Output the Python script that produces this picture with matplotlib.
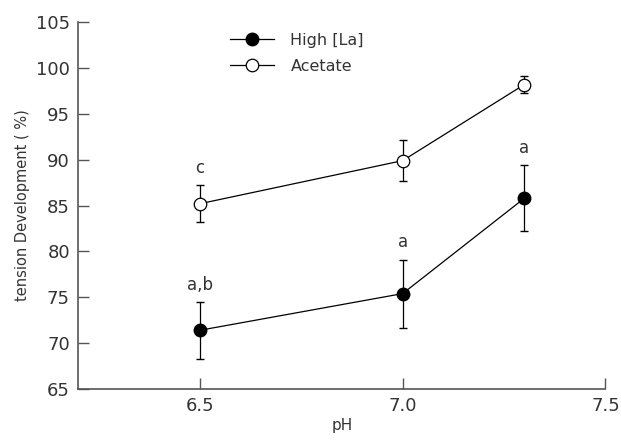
import matplotlib.pyplot as plt

ph = [6.5, 7.0, 7.3]
high_la = [71.4, 75.4, 85.8]
high_la_err = [3.1, 3.7, 3.6]
acetate = [85.2, 89.9, 98.2]
acetate_err = [2.0, 2.2, 0.9]
high_la_labels = ["a,b", "a", "a"]
acetate_labels = ["c", "", ""]

ink = "#333333"
axc = "#555555"

fig, ax = plt.subplots(figsize=(6.21, 4.43), dpi=100)
fig.subplots_adjust(left=0.126, right=0.975, top=0.95, bottom=0.122)

# error bars drawn separately so the legend shows plain line+marker
ax.errorbar(ph, high_la, yerr=high_la_err, fmt="none", ecolor="black",
            elinewidth=0.9, capsize=3)
ax.errorbar(ph, acetate, yerr=acetate_err, fmt="none", ecolor="black",
            elinewidth=0.9, capsize=3)
ax.plot(ph, high_la, "o-", color="black", mfc="black", ms=9, lw=0.9,
        label="High [La]", zorder=3)
ax.plot(ph, acetate, "o-", color="black", mfc="white", mec="black", mew=0.9,
        ms=9, lw=0.9, label="Acetate", zorder=3)

for x, y, e, t in zip(ph, high_la, high_la_err, high_la_labels):
    if t:
        ax.text(x, y + e + 0.9, t, ha="center", va="bottom", fontsize=12, color=ink)
for x, y, e, t in zip(ph, acetate, acetate_err, acetate_labels):
    if t:
        ax.text(x, y + e + 0.9, t, ha="center", va="bottom", fontsize=12, color=ink)

ax.set_xlim(6.2, 7.5)
ax.set_ylim(65, 105)
ax.set_xticks([6.5, 7.0, 7.5])
ax.set_xticklabels(["6.5", "7.0", "7.5"])
ax.set_yticks(range(65, 106, 5))

for s in ("top", "right"):
    ax.spines[s].set_visible(False)
for s in ("left", "bottom"):
    ax.spines[s].set_color(axc)
    ax.spines[s].set_linewidth(1.2)
ax.tick_params(direction="in", length=8, width=1.0, color=axc, labelcolor=ink,
               labelsize=13, pad=6)

ax.set_xlabel("pH", fontsize=11, color=ink, labelpad=2)
ax.set_ylabel("tension Development ( %)", fontsize=10.5, color=ink, labelpad=4)

leg = ax.legend(loc="upper left", bbox_to_anchor=(0.26, 1.01), frameon=False,
                fontsize=11.5, handlelength=2.8, handletextpad=1.0,
                labelspacing=0.7)
for t in leg.get_texts():
    t.set_color(ink)

fig.savefig("out.png", dpi=100)
